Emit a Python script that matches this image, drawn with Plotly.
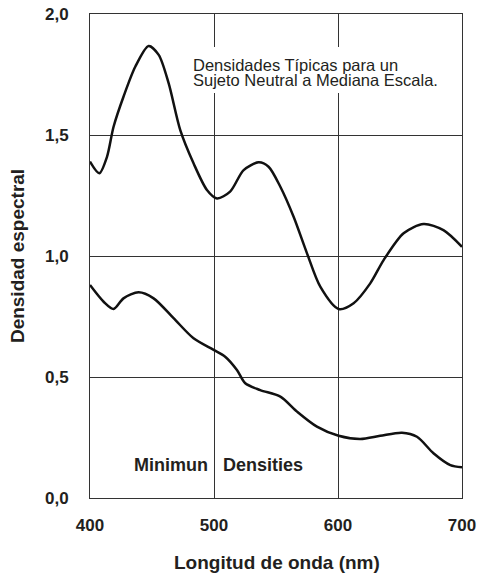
import plotly.graph_objects as go

# Upper curve: typical densities
upper_x = [400, 407.5, 413.7, 419, 427, 436.5, 447.3, 455.4, 463.4, 472.8, 483.5, 494.3,
           502.4, 513, 523.9, 536, 544, 553.5, 564.2, 575, 585.7, 600.5, 612.6, 626,
           636.8, 652.9, 669, 685, 700]
upper_y = [1.39, 1.342, 1.41, 1.534, 1.658, 1.782, 1.868, 1.831, 1.714, 1.52, 1.383, 1.273,
           1.238, 1.266, 1.355, 1.387, 1.369, 1.286, 1.162, 1.011, 0.873, 0.781, 0.805, 0.887,
           0.983, 1.094, 1.132, 1.107, 1.038]

# Lower curve: minimum densities
lower_x = [400, 411, 419, 427, 439.2, 451.3, 467.4, 483.5, 499.7, 509, 518.5, 525.2,
           537.3, 553.5, 567, 583, 600.5, 618, 634, 651.6, 663.7, 677, 690.6, 700]
lower_y = [0.88, 0.811, 0.781, 0.825, 0.85, 0.825, 0.743, 0.66, 0.612, 0.584, 0.529, 0.474,
           0.446, 0.419, 0.357, 0.295, 0.257, 0.244, 0.257, 0.27, 0.253, 0.185, 0.136, 0.127]

x_ticks = [400, 500, 600, 700]
y_ticks = [0.0, 0.5, 1.0, 1.5, 2.0]

note_lines = ["Densidades Típicas para un", "Sujeto Neutral a Mediana Escala."]

ink = "#231f20"
grid = "#333333"
FONT = "Liberation Sans, Arial"

fig = go.Figure()
for xs, ys in [(upper_x, upper_y), (lower_x, lower_y)]:
    fig.add_trace(go.Scatter(x=xs, y=ys, mode="lines",
                             line=dict(color="#111111", width=2.5, shape="spline", smoothing=0.8),
                             showlegend=False, hoverinfo="skip"))

# white box behind the note (covers gridlines)
fig.add_shape(type="rect", xref="x", yref="y", x0=478, x1=668, y0=1.674, y1=1.864,
              fillcolor="white", line=dict(width=0), layer="between")

for txt, yv in zip(note_lines, [1.789, 1.729]):
    fig.add_annotation(x=482.5, y=yv, xref="x", yref="y", xanchor="left", yanchor="middle",
                       text=txt, showarrow=False, align="left", borderpad=0,
                       font=dict(family=FONT, size=16.5, color=ink))

fig.add_annotation(x=503.5, y=0.136, xref="x", yref="y", xanchor="center", yanchor="middle",
                   text="<b>Minimun&nbsp;&nbsp; Densities</b>", showarrow=False,
                   font=dict(family=FONT, size=18, color=ink))

# axis titles
fig.add_annotation(x=0.503, y=-0.134, xref="paper", yref="paper", xanchor="center", yanchor="middle",
                   text="<b>Longitud de onda (nm)</b>", showarrow=False,
                   font=dict(family=FONT, size=19, color=ink))
fig.add_annotation(x=-0.196, y=0.5, xref="paper", yref="paper", xanchor="center", yanchor="middle",
                   text="<b>Densidad espectral</b>", showarrow=False, textangle=-90,
                   font=dict(family=FONT, size=19, color=ink))

fig.update_layout(
    width=478, height=575,
    margin=dict(l=90, r=16, t=14, b=77),
    paper_bgcolor="white", plot_bgcolor="white",
    separators=",.",
    font=dict(family=FONT, size=14, color=ink),
    xaxis=dict(range=[400, 700], tickvals=x_ticks, showgrid=True, gridcolor=grid, gridwidth=1,
               showline=True, linecolor=grid, linewidth=1, mirror=True, zeroline=False,
               ticks="", ticklabelstandoff=12, automargin=False,
               tickfont=dict(size=17, family=FONT, weight="bold", color=ink)),
    yaxis=dict(range=[0, 2.0], tickvals=y_ticks, tickformat=".1f", showgrid=True, gridcolor=grid,
               gridwidth=1, showline=True, linecolor=grid, linewidth=1, mirror=True, zeroline=False,
               ticks="", ticklabelstandoff=17, automargin=False,
               tickfont=dict(size=17, family=FONT, weight="bold", color=ink)),
)

fig.write_html("out.html", config={"displayModeBar": False},
               post_script="document.body.style.margin='0';document.body.style.overflow='hidden';")
